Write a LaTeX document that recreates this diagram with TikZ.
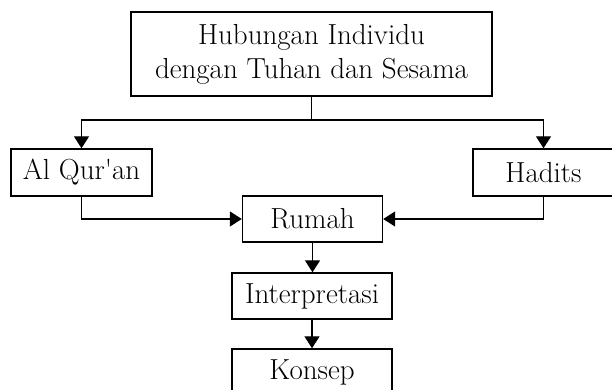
\documentclass[tikz,border=0pt]{standalone}
\usepackage{fontspec}
\usetikzlibrary{arrows.meta}
\begin{document}
\begin{tikzpicture}[x=1pt,y=1pt,
  box/.style={draw, line width=1.4pt, inner sep=0pt, align=center,
    font=\fontsize{29}{34}\selectfont},
  link/.style={line width=1.4pt},
  arrowlink/.style={link, -{Triangle[width=15pt,length=12pt]}}]
\useasboundingbox (0,0) rectangle (612,390);
\clip (0,0) rectangle (612,390);

% boxes
\node[box, minimum width=361pt, minimum height=84pt] (top) at (311.5,336)
  {Hubungan Individu\\dengan Tuhan dan Sesama};
\node[box, minimum width=141pt, minimum height=47pt] (aq) at (81.5,217.5) {Al Qur\textquotesingle an};
\node[box, minimum width=141pt, minimum height=47pt] (hd) at (543.5,217.5) {Hadits};
\node[box, minimum width=140pt, minimum height=46pt] (rumah) at (312.5,171) {Rumah};
\node[box, minimum width=160pt, minimum height=46pt] (interp) at (312,94) {Interpretasi};
\node[box, minimum width=160pt, minimum height=46pt] (konsep) at (312,18) {Konsep};

% branching from the top box
\coordinate (split) at (311.5,270);
\draw[link] (top.south) -- (split);
\draw[arrowlink] (split) -| (aq.north);
\draw[arrowlink] (split) -| (hd.north);

% sources into Rumah
\draw[arrowlink] (aq.south) |- (rumah.west);
\draw[arrowlink] (hd.south) |- (rumah.east);

% chain downward
\draw[arrowlink] (rumah.south) -- (rumah.south |- interp.north);
\draw[arrowlink] (interp.south) -- (konsep.north);
\end{tikzpicture}
\end{document}
